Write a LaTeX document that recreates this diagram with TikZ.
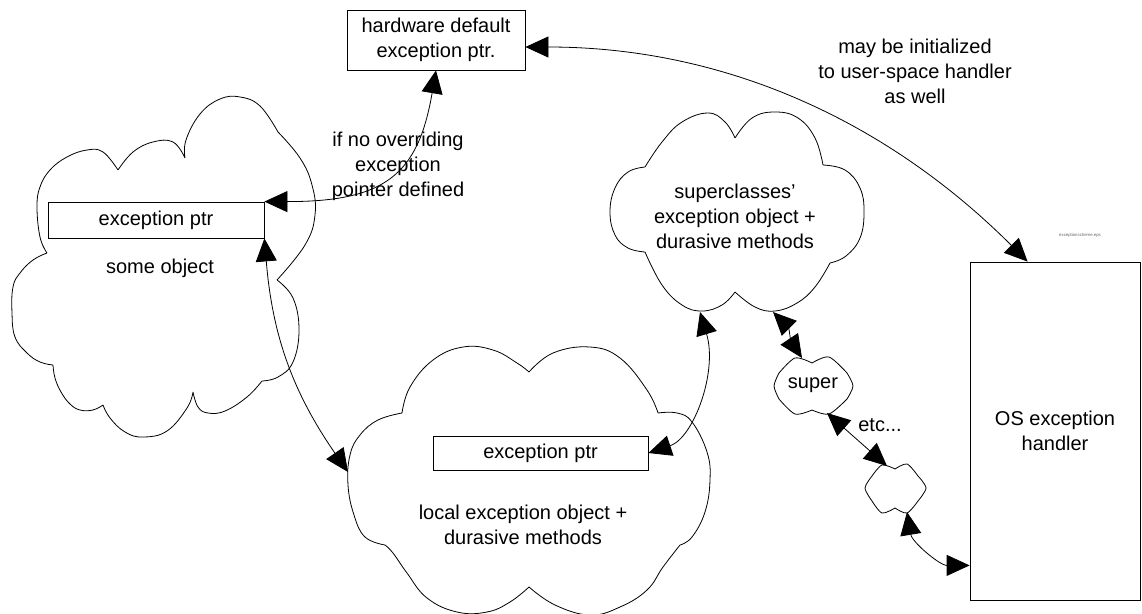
\documentclass[tikz,border=0pt]{standalone}
\usepackage{fontspec}
\setmainfont{Liberation Sans}
\usetikzlibrary{arrows.meta}
\newcommand\lblfont{\fontsize{20}{25}\selectfont}
\begin{document}
\begin{tikzpicture}[x=1pt,y=-1pt,line width=0.8pt,
  >={Triangle[length=23pt,width=21pt]},
  box/.style={draw,rectangle,inner sep=0pt,align=center,font=\lblfont},
  lbl/.style={align=center,font=\lblfont,inner sep=0pt},
  cl/.style={draw,line join=round},
  sm/.style={smooth,tension=0.7},
  dbl/.style={<->}]
\useasboundingbox (0,0) rectangle (1142,613);

% boxes
\node[box,minimum width=178pt,minimum height=60pt] (hw) at (436,40) {hardware default\\exception ptr.};
\node[box,minimum width=216pt,minimum height=36pt] (boxA) at (156,220) {exception ptr};
\node[box,minimum width=215pt,minimum height=34pt] (boxC) at (540.5,453) {exception ptr};
\node[box,minimum width=170pt,minimum height=338pt] (OS) at (1055,431) {OS exception\\handler};

% cloud A (some object)
\draw[cl] plot[sm] coordinates {(185,158) (186,140) (200,114) (220,99) (240,97) (260,106) (278,132)}
  plot[sm] coordinates {(278,132) (300,158) (312,185) (315,215) (305,245) (277,280)}
  plot[sm] coordinates {(277,280) (293,298) (299,330) (293,362) (278,377) (262,381)}
  plot[sm] coordinates {(262,381) (247,397) (225,411) (208,413) (198,407) (193,392)}
  plot[sm] coordinates {(193,392) (187,408) (167,431) (143,437) (125,432) (110,418) (103,405)}
  plot[sm] coordinates {(103,405) (93,410) (80,410) (70,404) (61,392) (55,378) (53,365)}
  plot[sm] coordinates {(53,365) (40,362) (27,353) (15,337) (12,313) (13,287) (20,273) (33,260) (47,253)}
  plot[sm] coordinates {(47,253) (40,237) (37,207) (40,187) (50,170) (67,157) (87,150) (103,152) (118,170)}
  plot[sm] coordinates {(118,170) (133,152) (153,142) (173,142) (185,158)};
\node[lbl] (Atxt) at (160,268) {some object};

% cloud B (superclasses)
\draw[cl] plot[sm] coordinates {(645,167) (662,142) (682,122) (708,113) (725,122) (735,138)}
  plot[sm] coordinates {(735,138) (752,118) (775,112) (798,118) (815,138) (823,165)}
  plot[sm] coordinates {(823,165) (845,170) (860,188) (864,212) (860,238) (846,256) (830,263)}
  plot[sm] coordinates {(830,263) (815,287) (797,303) (775,311) (755,307) (735,292)}
  plot[sm] coordinates {(735,292) (722,305) (702,311) (682,305) (662,285) (645,252)}
  plot[sm] coordinates {(645,252) (628,248) (615,235) (610,212) (615,188) (628,172) (645,167)};
\node[lbl] (Btxt) at (735,216) {superclasses\char"0027\\exception object +\\durasive methods};
\coordinate (Bbl) at (700,312);
\coordinate (Bbr) at (773,312);

% cloud C (local)
\draw[cl] plot[sm] coordinates {(402,413) (410,387) (433,360) (463,347) (493,350) (517,363) (529,372)}
  plot[sm] coordinates {(529,372) (553,353) (590,347) (620,358) (647,390) (658,413)}
  plot[sm] coordinates {(658,413) (677,413) (692,422) (707,452) (710,480) (705,512) (692,537) (680,545)}
  plot[sm] coordinates {(680,545) (663,567) (647,590) (620,607) (590,615) (555,605) (529,587)}
  plot[sm] coordinates {(529,587) (510,602) (487,612) (457,612) (427,598) (407,573) (393,553) (385,545)}
  plot[sm] coordinates {(385,545) (365,537) (354,515) (348,485) (350,455) (360,435) (378,420) (402,413)};
\node[lbl] (Ctxt) at (523,525) {local exception object +\\durasive methods};
\coordinate (Cl) at (348,472);

% small cloud "super"
\draw[cl] plot[smooth] coordinates {(779,373) (795,358) (812,363)}
  plot[smooth] coordinates {(812,363) (829,357) (847,373)}
  plot[smooth] coordinates {(847,373) (853,386) (847,399)}
  plot[smooth] coordinates {(847,399) (829,414) (812,410)}
  plot[smooth] coordinates {(812,410) (795,414) (779,399)}
  plot[smooth] coordinates {(779,399) (774,386) (779,373)};
\node[lbl] (sup) at (813,385) {super};
\coordinate (Supt) at (802,358);
\coordinate (Supbr) at (827,413);

% small empty cloud
\draw[cl] plot[smooth] coordinates {(872,476) (882,465) (895,469)}
  plot[smooth] coordinates {(895,469) (907,464) (918,476)}
  plot[smooth] coordinates {(918,476) (926,488) (918,501)}
  plot[smooth] coordinates {(918,501) (907,513) (895,508)}
  plot[smooth] coordinates {(895,508) (882,513) (872,501)}
  plot[smooth] coordinates {(872,501) (865,488) (872,476)};
\coordinate (Smt) at (887,466);
\coordinate (Smb) at (907,512);

% labels
\node[lbl] (l1) at (398,166) {if no overriding\\exception\\pointer defined};
\node[lbl] (l2) at (915,71) {may be initialized\\to user-space handler\\as well};
\node[lbl] (l3) at (880,425) {etc...};
\node[font=\fontsize{4.3}{5}\selectfont,text=black!60,inner sep=0pt] (fn) at (1080,235) {exceptionscheme.eps};

% connectors
\draw[dbl] (boxA.north east) .. controls +(120,0) and +(-18,105) .. (hw.south);
\draw[dbl] ([yshift=-7pt]hw.east) .. controls +(200,0) and +(-140,-140) .. ([xshift=58pt]OS.north west);
\draw[dbl] (boxA.south east) to[bend right=15] (Cl);
\draw[dbl] (boxC.east) .. controls +(45,-15) and +(18,60) .. (Bbl);
\draw[dbl] (Bbr) .. controls +(15,15) and +(-10,-15) .. (Supt);
\draw[dbl] (Supbr) -- (Smt);
\draw[dbl] (Smb) .. controls +(5,30) and +(-30,0) .. ([yshift=35pt]OS.south west);
\end{tikzpicture}
\end{document}
